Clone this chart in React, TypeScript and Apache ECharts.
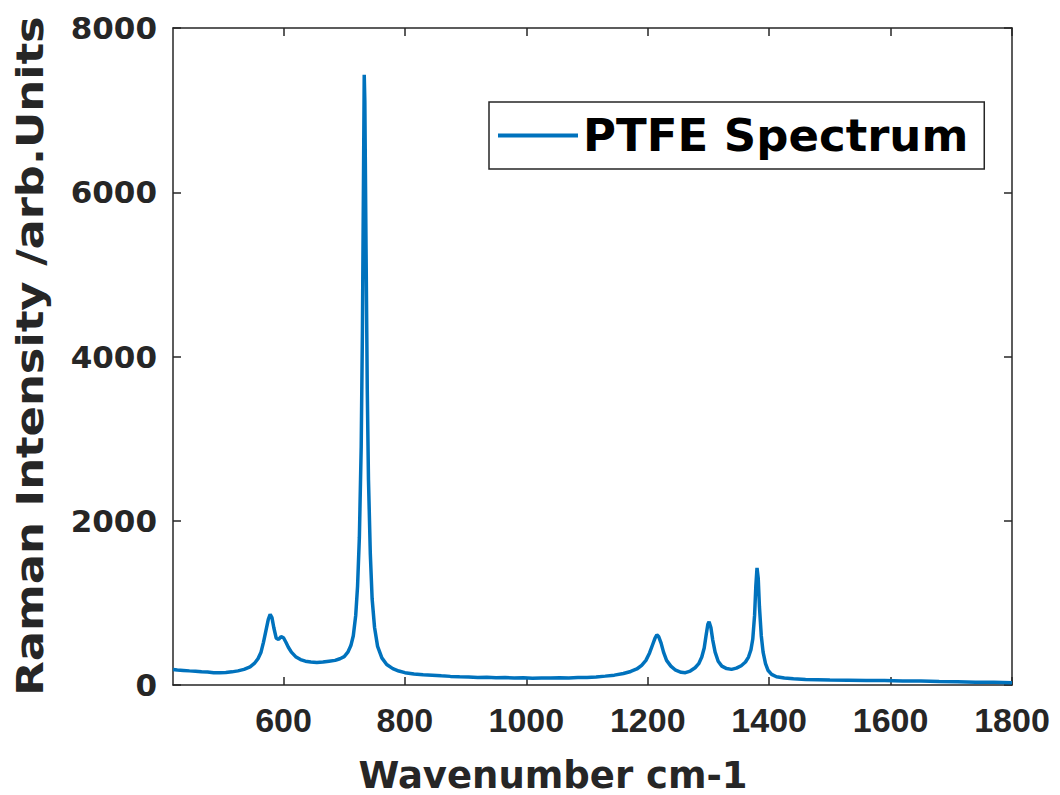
import React, { useEffect, useRef } from "react";
import * as echarts from "echarts";

const wavenumbers = [
  418, 425, 435, 445, 455, 465, 475, 485, 495, 505, 515, 525, 535, 545, 552, 558, 563, 567, 571, 575,
  578, 581, 584, 588, 592, 596, 600, 604, 608, 613, 620, 628, 636, 645, 655, 665, 675, 685, 693, 700,
  706, 711, 715, 719, 722, 725, 728, 730, 732, 733, 734, 736, 738, 740, 743, 746, 750, 755, 762, 770,
  780, 790, 800, 815, 830, 845, 860, 875, 890, 905, 920, 935, 950, 965, 980, 995, 1010, 1025, 1040, 1055,
  1070, 1085, 1100, 1115, 1130, 1145, 1160, 1172, 1182, 1190, 1197, 1203, 1208, 1212, 1215, 1218, 1222, 1226, 1231, 1238,
  1246, 1255, 1262, 1270, 1278, 1284, 1289, 1293, 1296, 1299, 1301, 1304, 1307, 1311, 1316, 1322, 1330, 1338, 1346, 1354,
  1361, 1366, 1370, 1373, 1376, 1378, 1380, 1382, 1384, 1387, 1390, 1394, 1398, 1404, 1412, 1425, 1440, 1460, 1480, 1500,
  1530, 1560, 1590, 1620, 1650, 1680, 1710, 1740, 1770, 1800,
];

const intensities = [
  190, 182, 178, 172, 168, 160, 158, 150, 148, 152, 160, 172, 190, 220, 262, 320, 400, 520, 660, 800,
  860, 820, 700, 570, 555, 590, 575, 520, 460, 400, 345, 310, 290, 280, 275, 280, 290, 300, 320, 345,
  400, 480, 600, 850, 1200, 1800, 2900, 4300, 6400, 7430, 7100, 5300, 3600, 2500, 1600, 1050, 700, 470, 330, 250,
  200, 170, 150, 135, 125, 120, 112, 105, 100, 98, 92, 95, 88, 90, 85, 88, 82, 86, 84, 88,
  85, 90, 92, 98, 108, 120, 140, 165, 195, 240, 300, 390, 490, 570, 610, 590, 510, 400, 300, 230,
  180, 155, 150, 170, 210, 260, 340, 450, 600, 740, 770, 700, 550, 400, 290, 230, 200, 190, 205, 235,
  280, 340, 430, 560, 850, 1200, 1425, 1300, 950, 600, 400, 260, 180, 130, 100, 85, 75, 68, 64, 60,
  58, 55, 55, 50, 48, 42, 40, 35, 32, 28,
];

const xTickValues = [600, 800, 1000, 1200, 1400, 1600, 1800];
const seriesName = "PTFE Spectrum";
const xTitle = "Wavenumber cm-1";
const yTitle = "Raman Intensity /arb.Units";

export default function App() {
  const ref = useRef<HTMLDivElement>(null);
  useEffect(() => {
    if (!ref.current) return;
    const chart = echarts.init(ref.current, null, { renderer: "svg" });
    const data = wavenumbers.map((w, i) => [w, intensities[i]]);
    const axisColor = "#262626";
    const lineStyle = { color: axisColor, width: 1.5 };
    const plain = (v: number) => String(v);
    chart.setOption({
      animation: false,
      backgroundColor: "#ffffff",
      grid: { left: 173, top: 28, right: 48, bottom: 110, containLabel: false },
      legend: {
        show: true,
        left: 489,
        top: 102,
        padding: [11, 16, 11, 9],
        borderColor: axisColor,
        borderWidth: 1.5,
        backgroundColor: "#ffffff",
        itemWidth: 80,
        itemHeight: 4,
        data: [{ name: seriesName, icon: "rect", itemStyle: { color: "#0072BD" } }],
        textStyle: {
          fontFamily: "DejaVu Sans",
          fontWeight: "bold",
          fontSize: 45,
          color: "#000000",
        },
      },
      xAxis: [
        {
          type: "value",
          min: 418,
          max: 1800,
          position: "bottom",
          axisLine: { show: true, lineStyle },
          axisTick: { show: true, inside: true, length: 8, lineStyle, customValues: xTickValues },
          axisLabel: {
            show: true,
            customValues: xTickValues,
            formatter: plain,
            margin: 18,
            fontFamily: "Liberation Sans",
            fontWeight: "bold",
            fontSize: 34,
            color: axisColor,
          },
          splitLine: { show: false },
        },
        {
          type: "value",
          min: 418,
          max: 1800,
          position: "top",
          axisLine: { show: true, onZero: false, lineStyle },
          axisTick: { show: true, inside: true, length: 8, lineStyle, customValues: xTickValues },
          axisLabel: { show: false },
          splitLine: { show: false },
        },
      ],
      yAxis: [
        {
          type: "value",
          min: 0,
          max: 8000,
          interval: 2000,
          position: "left",
          axisLine: { show: true, lineStyle },
          axisTick: { show: true, inside: true, length: 8, lineStyle },
          axisLabel: {
            show: true,
            formatter: plain,
            margin: 16,
            fontFamily: "DejaVu Sans",
            fontWeight: "bold",
            fontSize: 31,
            color: axisColor,
          },
          splitLine: { show: false },
        },
        {
          type: "value",
          min: 0,
          max: 8000,
          interval: 2000,
          position: "right",
          axisLine: { show: true, onZero: false, lineStyle },
          axisTick: { show: true, inside: true, length: 8, lineStyle },
          axisLabel: { show: false },
          splitLine: { show: false },
        },
      ],
      graphic: [
        {
          type: "text",
          x: 553,
          y: 775,
          style: {
            text: xTitle,
            fontFamily: "DejaVu Sans",
            fontWeight: "bold",
            fontSize: 37,
            fill: axisColor,
            align: "center",
            verticalAlign: "middle",
          },
        },
        {
          type: "text",
          x: 30,
          y: 356,
          rotation: Math.PI / 2,
          scaleX: 1.18,
          style: {
            text: yTitle,
            fontFamily: "DejaVu Sans",
            fontWeight: "bold",
            fontSize: 38,
            fill: axisColor,
            align: "center",
            verticalAlign: "middle",
          },
        },
      ],
      series: [
        {
          name: seriesName,
          type: "line",
          xAxisIndex: 0,
          yAxisIndex: 0,
          data,
          symbol: "none",
          showSymbol: false,
          lineStyle: { color: "#0072BD", width: 3.5 },
          itemStyle: { color: "#0072BD" },
          z: 3,
        },
      ],
    });
    return () => chart.dispose();
  }, []);
  return (
    <div
      ref={ref}
      style={{ position: "absolute", left: 0, top: 0, width: 1060, height: 795 }}
    />
  );
}
